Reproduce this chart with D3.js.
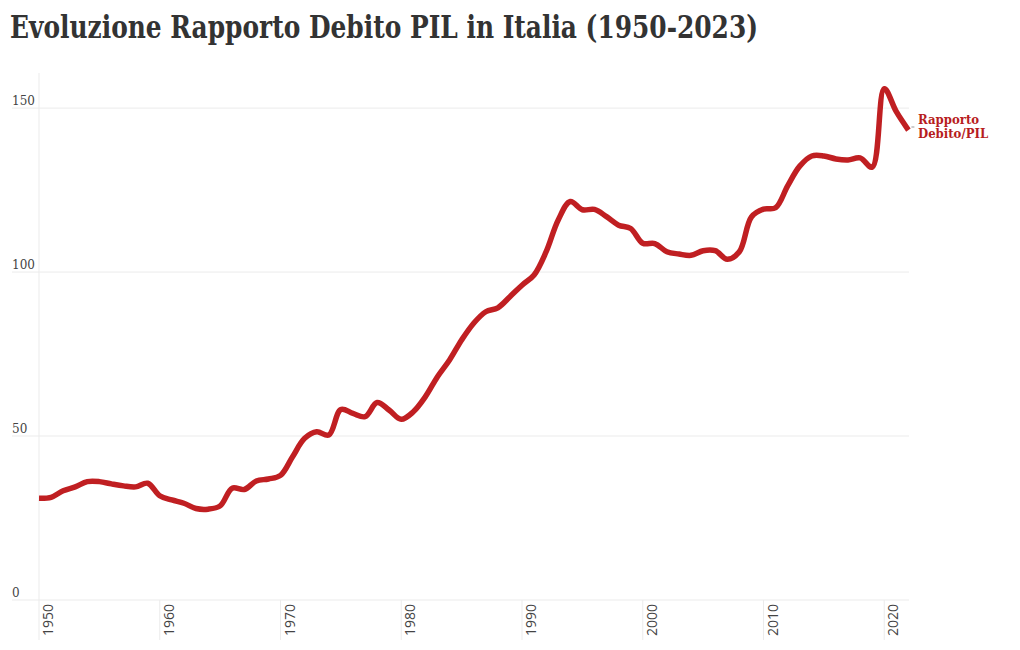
<!DOCTYPE html>
<html>
<head>
<meta charset="utf-8">
<script src="https://cdn.jsdelivr.net/npm/d3@7"></script>
<style>
  html, body { margin: 0; padding: 0; background: #fff; }
  svg { display: block; }
</style>
</head>
<body>
<svg id="chart" width="1020" height="650"></svg>
<script>
const title = "Evoluzione Rapporto Debito PIL in Italia (1950-2023)";
const seriesName = ["Rapporto", "Debito/PIL"];
const years = d3.range(1950, 2023);
const debtRatio = [
  31.0, 31.3, 33.3, 34.5, 36.1, 36.1, 35.4, 34.8, 34.5, 35.6,
  31.8, 30.5, 29.5, 27.9, 27.7, 28.7, 34.1, 33.7, 36.3, 36.9,
  38.0, 43.7, 49.3, 51.3, 50.3, 58.1, 56.9, 55.9, 60.2, 57.9,
  55.1, 57.4, 62.0, 68.1, 73.2, 79.3, 84.4, 87.9, 89.1, 92.5,
  96.0, 99.1, 106.2, 115.9, 121.5, 119.0, 119.1, 116.9, 114.3, 113.3,
  108.8, 108.7, 106.2, 105.5, 105.1, 106.5, 106.5, 103.9, 106.2, 116.8,
  119.2, 119.6, 126.3, 132.3, 135.4, 135.4, 134.5, 134.2, 134.8, 132.0,
  155.9, 148.9, 143.3
];
const yTicks = [0, 50, 100, 150];
const xTicks = [1950, 1960, 1970, 1980, 1990, 2000, 2010, 2020];

const data = years.map((y, i) => ({ year: y, value: debtRatio[i] }));
const svg = d3.select("#chart");

const x = d3.scaleLinear().domain([1950, 2022]).range([39, 908.4]);
const y = d3.scaleLinear().domain([0, 160.7]).range([600, 73]);

const lineColor = "#c01f22";
const gridColor = "#ebebeb";

// Title
const t = svg.append("text")
  .attr("x", 10).attr("y", 38)
  .attr("font-family", "'DejaVu Serif', serif")
  .attr("font-weight", "bold")
  .attr("font-size", 31)
  .attr("fill", "#333")
  .text(title);
const tl = t.node().getComputedTextLength();
if (Math.abs(tl - 748) > 4) t.attr("textLength", 748).attr("lengthAdjust", "spacingAndGlyphs");

// Horizontal grid
svg.append("g").selectAll("line").data(yTicks).join("line")
  .attr("x1", 12).attr("x2", 909)
  .attr("y1", d => y(d)).attr("y2", d => y(d))
  .attr("stroke", gridColor).attr("stroke-width", 1);

// Y axis line (left)
svg.append("line")
  .attr("x1", x(1950)).attr("x2", x(1950))
  .attr("y1", 73).attr("y2", 600)
  .attr("stroke", gridColor).attr("stroke-width", 1);

// X ticks (long, below axis)
svg.append("g").selectAll("line").data(xTicks).join("line")
  .attr("x1", d => x(d)).attr("x2", d => x(d))
  .attr("y1", 600).attr("y2", 640)
  .attr("stroke", gridColor).attr("stroke-width", 1);

// Y tick labels
svg.append("g").selectAll("text").data(yTicks).join("text")
  .attr("x", 12).attr("y", d => y(d) - 3)
  .attr("font-family", "'DejaVu Serif', serif")
  .attr("font-size", 12)
  .attr("fill", "#444")
  .text(d => d);

// X tick labels (rotated)
svg.append("g").selectAll("text").data(xTicks).join("text")
  .attr("transform", d => `translate(${x(d) + 14},604) rotate(-90)`)
  .attr("text-anchor", "end")
  .attr("font-family", "'Open Sans', sans-serif")
  .attr("font-size", 14)
  .attr("fill", "#444")
  .text(d => d);

// Line
const line = d3.line()
  .x(d => x(d.year)).y(d => y(d.value))
  .curve(d3.curveCatmullRom.alpha(0.5));
svg.append("path")
  .datum(data)
  .attr("d", line)
  .attr("fill", "none")
  .attr("stroke", lineColor)
  .attr("stroke-width", 5.5)
  .attr("stroke-linejoin", "round")
  .attr("stroke-linecap", "butt");

// End label
const last = data[data.length - 1];
svg.append("line")
  .attr("x1", x(last.year) + 3).attr("x2", x(last.year) + 6)
  .attr("y1", 127).attr("y2", 127)
  .attr("stroke", "#999").attr("stroke-width", 1);
const lbl = svg.append("text")
  .attr("x", 918).attr("y", 123.5)
  .attr("font-family", "'DejaVu Serif Condensed', 'DejaVu Serif', serif")
  .attr("font-weight", "bold")
  .attr("font-size", 13)
  .attr("fill", "#b71c20");
seriesName.forEach((s, i) => {
  lbl.append("tspan").attr("x", 918).attr("dy", i === 0 ? 0 : 14).text(s);
});
</script>
</body>
</html>
